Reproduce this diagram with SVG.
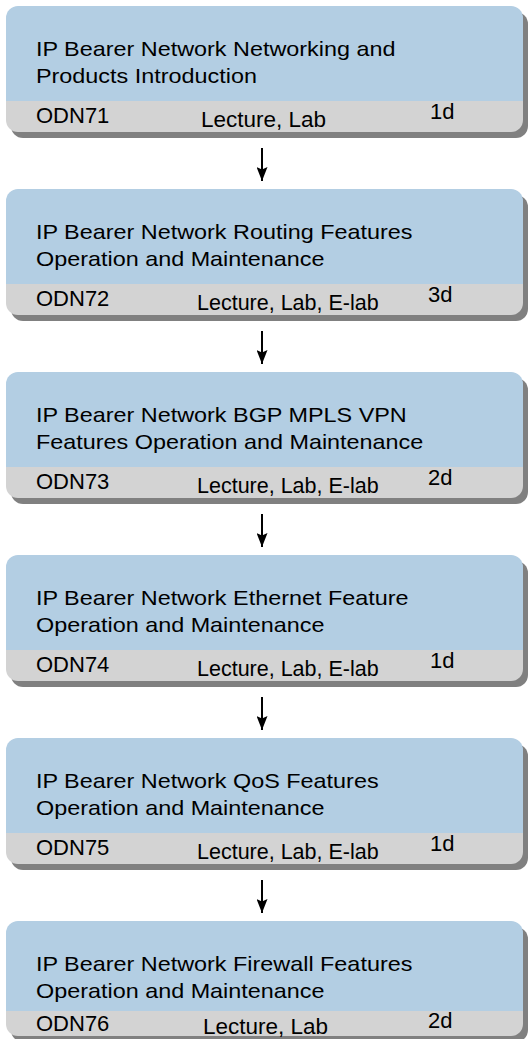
<svg xmlns="http://www.w3.org/2000/svg" xmlns:xlink="http://www.w3.org/1999/xlink" width="530" height="1039" viewBox="0 0 530 1039">
  <style>
    text { font-family: "Liberation Sans", Arial, sans-serif; fill: #000; }
    .title { font-size: 20px; }
    .info { font-size: 22px; }
    .mode { font-size: 22.5px; }
    .mode-long { font-size: 21.5px; }
    .shadow { fill: #808080; }
    .head { fill: #b3cee3; }
    .band { fill: #d3d3d3; }
    .link { stroke: #000; stroke-width: 2; fill: none; }
  </style>
  <defs>
    <clipPath id="card-clip">
      <rect x="0" y="0" width="517" height="126" rx="12" ry="12"/>
    </clipPath>
    <clipPath id="card-last-clip">
      <rect x="0" y="0" width="517" height="115" rx="12" ry="12"/>
    </clipPath>
    <!-- course card: drop shadow, blue title area, grey info band -->
    <g id="card">
      <rect class="shadow" x="5" y="6" width="517" height="126" rx="12" ry="12"/>
      <g clip-path="url(#card-clip)">
        <rect class="head" x="0" y="0" width="517" height="95"/>
        <rect class="band" x="0" y="95" width="517" height="31"/>
      </g>
    </g>
    <!-- shorter card for the bottom of the page -->
    <g id="card-last">
      <rect class="shadow" x="5" y="6" width="517" height="115" rx="12" ry="12"/>
      <g clip-path="url(#card-last-clip)">
        <rect class="head" x="0" y="0" width="517" height="90"/>
        <rect class="band" x="0" y="90" width="517" height="25"/>
      </g>
    </g>
    <marker id="arrow" viewBox="0 0 14 11" refX="14" refY="5.5" markerWidth="14" markerHeight="11" markerUnits="userSpaceOnUse" orient="auto">
      <path d="M0,0 L14,5.5 L0,11 L2.5,5.5 Z" fill="#000"/>
    </marker>
  </defs>

  <g id="connectors">
    <line class="link" x1="262" y1="148" x2="262" y2="181" marker-end="url(#arrow)"/>
    <line class="link" x1="262" y1="331" x2="262" y2="364" marker-end="url(#arrow)"/>
    <line class="link" x1="262" y1="514" x2="262" y2="547" marker-end="url(#arrow)"/>
    <line class="link" x1="262" y1="697" x2="262" y2="730" marker-end="url(#arrow)"/>
    <line class="link" x1="262" y1="880" x2="262" y2="913" marker-end="url(#arrow)"/>
  </g>

  <g id="odn71" transform="translate(6,6)">
    <use xlink:href="#card"/>
    <g class="title" transform="scale(1.17 1)">
      <text x="25.6" y="50.5">IP Bearer Network Networking and</text>
      <text x="25.6" y="77">Products Introduction</text>
    </g>
    <text class="info" x="30" y="117.3">ODN71</text>
    <text class="mode" x="195" y="121">Lecture, Lab</text>
    <text class="info" x="424" y="113">1d</text>
  </g>

  <g id="odn72" transform="translate(6,189)">
    <use xlink:href="#card"/>
    <g class="title" transform="scale(1.17 1)">
      <text x="25.6" y="50.5">IP Bearer Network Routing Features</text>
      <text x="25.6" y="77">Operation and Maintenance</text>
    </g>
    <text class="info" x="30" y="117.3">ODN72</text>
    <text class="mode-long" x="191" y="121">Lecture, Lab, E-lab</text>
    <text class="info" x="422" y="113">3d</text>
  </g>

  <g id="odn73" transform="translate(6,372)">
    <use xlink:href="#card"/>
    <g class="title" transform="scale(1.17 1)">
      <text x="25.6" y="50.5">IP Bearer Network BGP MPLS VPN</text>
      <text x="25.6" y="77">Features Operation and Maintenance</text>
    </g>
    <text class="info" x="30" y="117.3">ODN73</text>
    <text class="mode-long" x="191" y="121">Lecture, Lab, E-lab</text>
    <text class="info" x="422" y="113">2d</text>
  </g>

  <g id="odn74" transform="translate(6,555)">
    <use xlink:href="#card"/>
    <g class="title" transform="scale(1.17 1)">
      <text x="25.6" y="50.5">IP Bearer Network Ethernet Feature</text>
      <text x="25.6" y="77">Operation and Maintenance</text>
    </g>
    <text class="info" x="30" y="117.3">ODN74</text>
    <text class="mode-long" x="191" y="121">Lecture, Lab, E-lab</text>
    <text class="info" x="424" y="113">1d</text>
  </g>

  <g id="odn75" transform="translate(6,738)">
    <use xlink:href="#card"/>
    <g class="title" transform="scale(1.17 1)">
      <text x="25.6" y="50.5">IP Bearer Network QoS Features</text>
      <text x="25.6" y="77">Operation and Maintenance</text>
    </g>
    <text class="info" x="30" y="117.3">ODN75</text>
    <text class="mode-long" x="191" y="121">Lecture, Lab, E-lab</text>
    <text class="info" x="424" y="113">1d</text>
  </g>

  <g id="odn76" transform="translate(6,921)">
    <use xlink:href="#card-last"/>
    <g class="title" transform="scale(1.17 1)">
      <text x="25.6" y="50.5">IP Bearer Network Firewall Features</text>
      <text x="25.6" y="77">Operation and Maintenance</text>
    </g>
    <text class="info" x="30" y="110">ODN76</text>
    <text class="mode" x="197" y="113">Lecture, Lab</text>
    <text class="info" x="422" y="107">2d</text>
  </g>
</svg>
